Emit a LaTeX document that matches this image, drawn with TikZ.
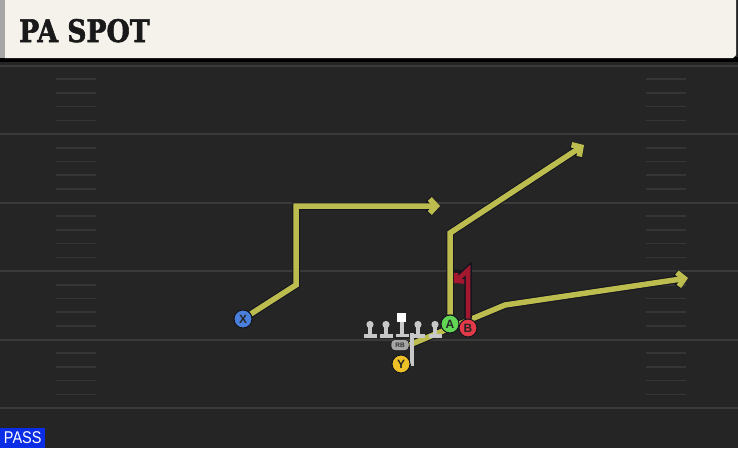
\documentclass[tikz,border=0pt]{standalone}
\usepackage{fontspec}
\setsansfont{Liberation Sans}
\newfontfamily\titlefont{DejaVu Serif}[FakeBold=2]
\usetikzlibrary{arrows.meta}
\pgfdeclarelayer{bg}
\pgfsetlayers{bg,main}

\definecolor{turf}{HTML}{252525}
\definecolor{chalk}{HTML}{3A3A3A}
\definecolor{hash}{HTML}{353535}
\definecolor{cream}{HTML}{F5F2EB}
\definecolor{routeyellow}{HTML}{BCBD4E}
\definecolor{blockred}{HTML}{A3182F}
\definecolor{outline}{HTML}{15151F}
\definecolor{xblue}{HTML}{4A80DB}
\definecolor{agreen}{HTML}{62D555}
\definecolor{bred}{HTML}{E23A48}
\definecolor{yyellow}{HTML}{EDC127}
\definecolor{passblue}{HTML}{0B2DE6}
\definecolor{linegray}{HTML}{C8C8C8}

\tikzset{
  player/.style={circle,draw=outline,line width=1pt,minimum size=18pt,inner sep=0pt,
    font=\sffamily\bfseries\fontsize{12}{12}\selectfont,text=black!85},
  tip/.style={-{Straight Barb[length=6.5pt,width=14pt]}},
  route/.style={line width=5.5pt,draw=#1,tip,
    preaction={draw=outline,line width=7.5pt,tip}},
  route/.default=routeyellow,
  block/.style={line width=3.2pt,draw=linegray},
  lineman/.pic={
    \fill[linegray] (0,0) circle (3.6);
    \fill[linegray] (-1.8,2) rectangle (1.8,11);
    \fill[linegray] (-6.5,9.5) rectangle (6.5,13);
  }
}

\begin{document}
\begin{tikzpicture}[x=1pt,y=-1pt]
\useasboundingbox (0,0) rectangle (738,448);

% field
\begin{pgfonlayer}{bg}
\fill[turf] (0,0) rectangle (738,448);
\foreach \l in {65.5,134,202.5,271,339.5,408}
  \draw[chalk,line width=2pt] (0,\l) -- (738,\l);
\foreach \l in {65.5,134,202.5,271,339.5}
  \foreach \j in {1,...,4} {
    \draw[hash,line width=1.6pt] (56,\l+13.7*\j) -- (96,\l+13.7*\j);
    \draw[hash,line width=1.6pt] (646,\l+13.7*\j) -- (686,\l+13.7*\j);
  }
\end{pgfonlayer}

% title bar
\fill[black] (0,57) rectangle (738,62);
\fill[cream] (5,0) -- (736,0) -- (736,55) -- (733,58) -- (5,58) -- cycle;
\fill[gray!70] (0,0) rectangle (5,58);
\node[anchor=base west,inner sep=0pt,text=black!90,
  font=\titlefont\bfseries\fontsize{31}{31}\selectfont] (title) at (19,42)
  {\scalebox{0.86}[1]{PA SPOT}};

% line
\foreach \x in {370,386,418,435}
  \pic at (\x,324.5) {lineman};
\fill[linegray] (400.2,322) rectangle (403.8,335);
\fill[linegray] (395.5,333.5) rectangle (408.5,337);
\fill[white] (397,313) rectangle (406,322);

% skill players
\node[player,fill=xblue] (x) at (243,319) {X};
\node[player,fill=agreen] (a) at (450,324) {A};
\node[player,fill=bred] (b) at (468,328) {B};
\node[player,fill=yyellow] (y) at (401,364) {Y};
\node[fill=gray!70,draw=outline,line width=0.5pt,rounded corners=4pt,minimum width=18pt,
  minimum height=11pt,inner sep=0pt,text=black!80,
  font=\sffamily\bfseries\fontsize{6.5}{6.5}\selectfont] (rb) at (400,345) {RB};

\coordinate (x1) at (296,285);
\coordinate (x2) at (296,206);
\coordinate (x3) at (440,206);
\coordinate (a1) at (450,233);
\coordinate (a2) at (584,145);
\coordinate (r1) at (505,305);
\coordinate (r2) at (688,278);
\coordinate (b1) at (468,270);
\coordinate (b2) at (454,283);
\coordinate (blk) at (412,333);

% routes
\begin{pgfonlayer}{bg}
\draw[route] (x) -- (x1) -- (x2) -- (x3);
\draw[route] (a) -- (a1) -- (a2);
\draw[route] (rb.east) -- (r1) -- (r2);
\draw[route=blockred,line width=4.5pt,-{Straight Barb[length=5.5pt,width=12pt]},
  preaction={draw=outline,line width=6.5pt,-{Straight Barb[length=5.5pt,width=12pt]}}]
  (b) -- (b1) -- (b2);
\draw[block] (y.east) -| (blk);
\end{pgfonlayer}

% play type
\node[fill=passblue,text=white,anchor=south west,minimum width=45pt,minimum height=20pt,
  inner sep=0pt,font=\sffamily\fontsize{17}{17}\selectfont] (pass) at (0,448)
  {\scalebox{0.85}[1]{PASS}};
\end{tikzpicture}
\end{document}
